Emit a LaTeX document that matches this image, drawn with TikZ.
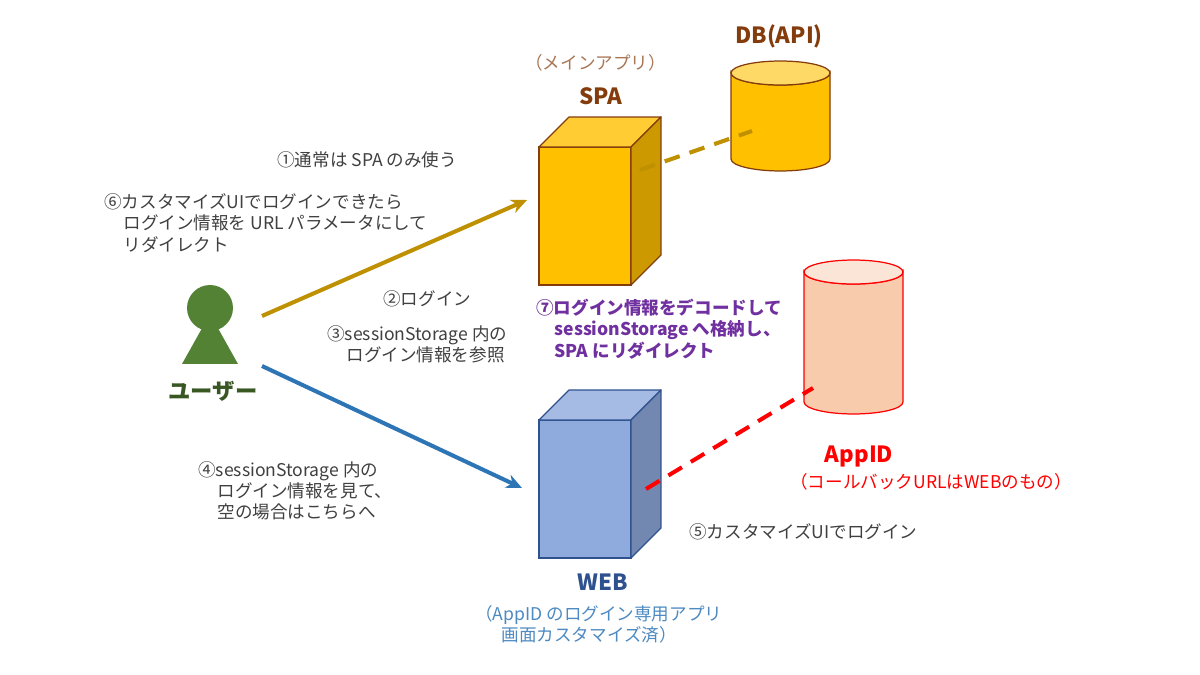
\documentclass[tikz,border=0pt]{standalone}
\usepackage{fontspec}
\setmainfont{Noto Sans CJK JP}
\usetikzlibrary{calc,arrows.meta}

\definecolor{spaline}{HTML}{843C0C}
\definecolor{spafill}{HTML}{FFC000}
\definecolor{gold}{HTML}{BF9000}
\definecolor{webline}{HTML}{2F528F}
\definecolor{webfill}{HTML}{8FAADC}
\definecolor{usergreen}{HTML}{548235}
\definecolor{userdark}{HTML}{385723}
\definecolor{linkblue}{HTML}{2E75B6}
\definecolor{notepurple}{HTML}{7030A0}
\definecolor{notegray}{HTML}{404040}
\definecolor{appfill}{HTML}{F8CBAD}
\definecolor{apptop}{HTML}{FBE5D6}
\definecolor{dbtop}{HTML}{FFD966}

\tikzset{
    note/.style={anchor=west, inner sep=0, align=left, text=notegray,
        font=\fontsize{10}{12.1}\selectfont},
    title/.style={anchor=center, inner sep=0, font=\fontsize{12.7}{15}\selectfont\bfseries},
    front/.style={rectangle, draw, inner sep=0, outer sep=0, line width=.7pt,
        minimum width=1.84cm, minimum height=2.76cm},
    can/.style={rectangle, inner sep=0, outer sep=0, minimum width=1.98cm},
    link/.style={line width=2.3pt, -{Stealth[length=9pt,width=8pt]}},
    wire/.style={line width=2.3pt, dash pattern=on 9pt off 5.9pt}
}

% Top and side faces behind a front node
\newcommand{\boxfaces}[4]{
    \draw[#4, fill=#2, line width=.7pt, line join=round] (#1.north west)
        -- ++(30,-30) -- ++(92,0) -- (#1.north east) -- cycle;
    \draw[#4, fill=#3, line width=.7pt, line join=round] (#1.north east)
        -- ++(30,-30) -- ++(0,138) -- (#1.south east) -- cycle;
}

% Body and lid of a cylinder inside a can node
\newcommand{\canfaces}[4]{
    \draw[#4, fill=#2, line width=.7pt] ($(#1.north west)+(0,12)$)
        arc[start angle=180, end angle=360, x radius=.99cm, y radius=.24cm]
        -- ($(#1.south east)+(0,-12)$)
        arc[start angle=0, end angle=-180, x radius=.99cm, y radius=.24cm] -- cycle;
    \draw[#4, fill=#3, line width=.7pt] ($(#1.north)+(0,12)$)
        ellipse[x radius=.99cm, y radius=.24cm];
}

\begin{document}
\begin{tikzpicture}[x=.02cm, y=-.02cm]

        \useasboundingbox[fill=white] (0,0) rectangle (1200,675);

        % Servers
        \node (SPA) [front, draw=spaline, fill=spafill] at (585,216) {};
        \boxfaces{SPA}{spafill!80!white}{spafill!80!black}{spaline}
        \node (WEB) [front, draw=webline, fill=webfill] at (585,489) {};
        \boxfaces{WEB}{webfill!80!white}{webfill!80!black}{webline}

        % Databases
        \node (DB) [can, minimum height=2.2cm] at (780.5,116) {};
        \canfaces{DB}{spafill}{dbtop}{spaline}
        \node (AppID) [can, minimum height=3.08cm] at (853.5,337) {};
        \canfaces{AppID}{appfill}{apptop}{red}

        % User
        \node (Head) [circle, fill=usergreen, inner sep=0, minimum size=.92cm] at (210,308) {};
        \fill[usergreen] (210,314) -- (238,364) -- (182,364) -- cycle;

        \coordinate (UserA) at (262,316);
        \coordinate (UserB) at (262,366);
        \coordinate (SpaIn) at (527,200);
        \coordinate (WebIn) at (522,488);
        \coordinate (SpaOut) at (640,170);
        \coordinate (DbIn) at (752,131);
        \coordinate (WebOut) at (646,489);
        \coordinate (AppIn) at (813,388);

        \begin{scope}
            \draw[link, gold] (UserA) -- (SpaIn);
            \draw[link, linkblue] (UserB) -- (WebIn);
            \draw[wire, gold] (SpaOut) -- (DbIn);
            \draw[wire, red] (WebOut) -- (AppIn);
        \end{scope}

        % Titles
        \node (TSPA) [title, text=spaline] at (601,96) {SPA};
        \node (TDB) [title, text=spaline] at (779,36) {DB(API)};
        \node (TWEB) [title, text=webline] at (603,582) {WEB};
        \node (TApp) [title, text=red] at (859,456) {AppID};
        \node (TUser) [title, text=userdark] at (213,391) {ユーザー};

        % Notes
        \node (NMain) [note, text=spaline!70!white] at (525,63) {（メインアプリ）};
        \node (NOne) [note] at (277,160) {①通常は SPA のみ使う};
        \node (NSix) [note] at (104,223) {⑥カスタマイズUIでログインできたら\\
            \hspace{10.9pt}ログイン情報を URL パラメータにして\\
            \hspace{10.9pt}リダイレクト};
        \node (NTwo) [note] at (383,299) {②ログイン};
        \node (NThree) [note] at (327,344) {③sessionStorage 内の\\
            \hspace{10.9pt}ログイン情報を参照};
        \node (NFour) [note] at (198,491) {④sessionStorage 内の\\
            \hspace{10.9pt}ログイン情報を見て、\\
            \hspace{10.9pt}空の場合はこちらへ};
        \node (NFive) [note] at (689,532) {⑤カスタマイズUIでログイン};
        \node (NSeven) [note, text=notepurple, font=\fontsize{10}{12.1}\selectfont\bfseries]
            at (536,329) {⑦ログイン情報をデコードして\\
            \hspace{10.4pt}sessionStorage へ格納し、\\
            \hspace{10.4pt}SPA にリダイレクト};
        \node (NWeb) [note, text=linkblue!85!white] at (475,624.5) {（AppID のログイン専用アプリ\\
            \hspace{15pt}画面カスタマイズ済）};
        \node (NApp) [note, text=red] at (790,482) {（コールバックURLはWEBのもの）};

\end{tikzpicture}
\end{document}
